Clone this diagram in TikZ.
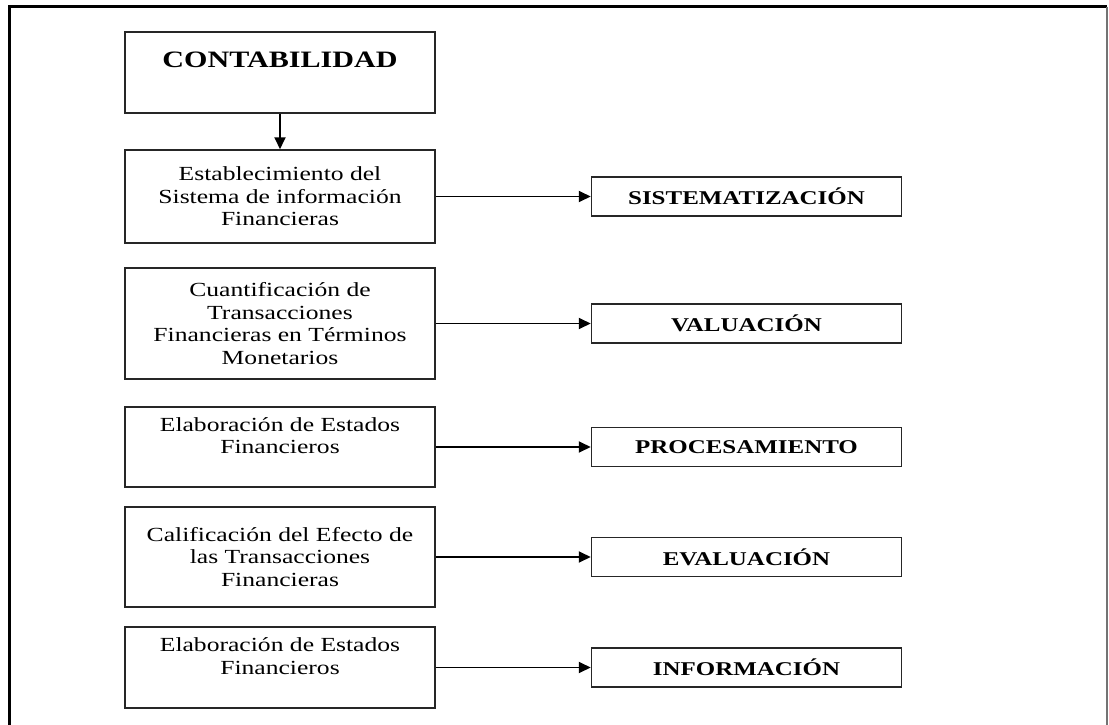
\documentclass[tikz,border=0pt]{standalone}
\usepackage{fontspec}
\setmainfont{Liberation Serif}[FakeStretch=1.28]
\usetikzlibrary{positioning,arrows.meta}
\lineskiplimit=-10pt

\begin{document}
\begin{tikzpicture}[x=1pt,y=-1pt,
        caja/.style={draw=black!85,line width=1.5pt,minimum width=310pt,align=center,font=\fontsize{20}{22.5}\selectfont},
        etapa/.style={draw=black!85,line width=1.5pt,minimum width=310pt,minimum height=39pt,font=\bfseries\fontsize{19.5}{22}\selectfont},
        flecha/.style={line width=1.9pt,-{Triangle[length=12pt,width=11pt]}}]
            \useasboundingbox (0,0) rectangle (1109,725);
            \draw[line width=3pt] (9,725) -- (9,7) -- (1107,7);
            \draw[black!55,line width=1.5pt] (1107,7) -- (1107,725);
            \node[caja,minimum height=81pt,font=\bfseries\fontsize{23.5}{26}\selectfont,text height=16pt,text depth=27pt] (conta) at (280,72.5) {CONTABILIDAD};
            \node[caja,minimum height=93pt] (est) at (280,196.5) {Establecimiento del\\Sistema de información\\Financieras};
            \node[caja,minimum height=111pt] (cuant) at (280,323.5) {Cuantificación de\\Transacciones\\Financieras en Términos\\Monetarios};
            \node[caja,minimum height=80pt] (elab) at (280,447) {Elaboración de Estados\\Financieros\\\mbox{}};
            \node[caja,minimum height=100pt] (calif) at (280,557) {Calificación del Efecto de\\las Transacciones\\Financieras};
            \node[caja,minimum height=81pt] (elabfin) at (280,667.5) {Elaboración de Estados\\Financieros\\\mbox{}};
            \node[etapa,right=155pt of est] (sist) {SISTEMATIZACIÓN};
            \node[etapa,right=155pt of cuant] (valu) {VALUACIÓN};
            \node[etapa,right=155pt of elab] (proc) {PROCESAMIENTO};
            \node[etapa,right=155pt of calif] (eval) {EVALUACIÓN};
            \node[etapa,right=155pt of elabfin] (info) {INFORMACIÓN};
            \draw[flecha] (conta) -- (est);
            \draw[flecha] (est) -- (sist);
            \draw[flecha] (cuant) -- (valu);
            \draw[flecha] (elab) -- (proc);
            \draw[flecha] (calif) -- (eval);
            \draw[flecha] (elabfin) -- (info);
        \end{tikzpicture}
\end{document}
